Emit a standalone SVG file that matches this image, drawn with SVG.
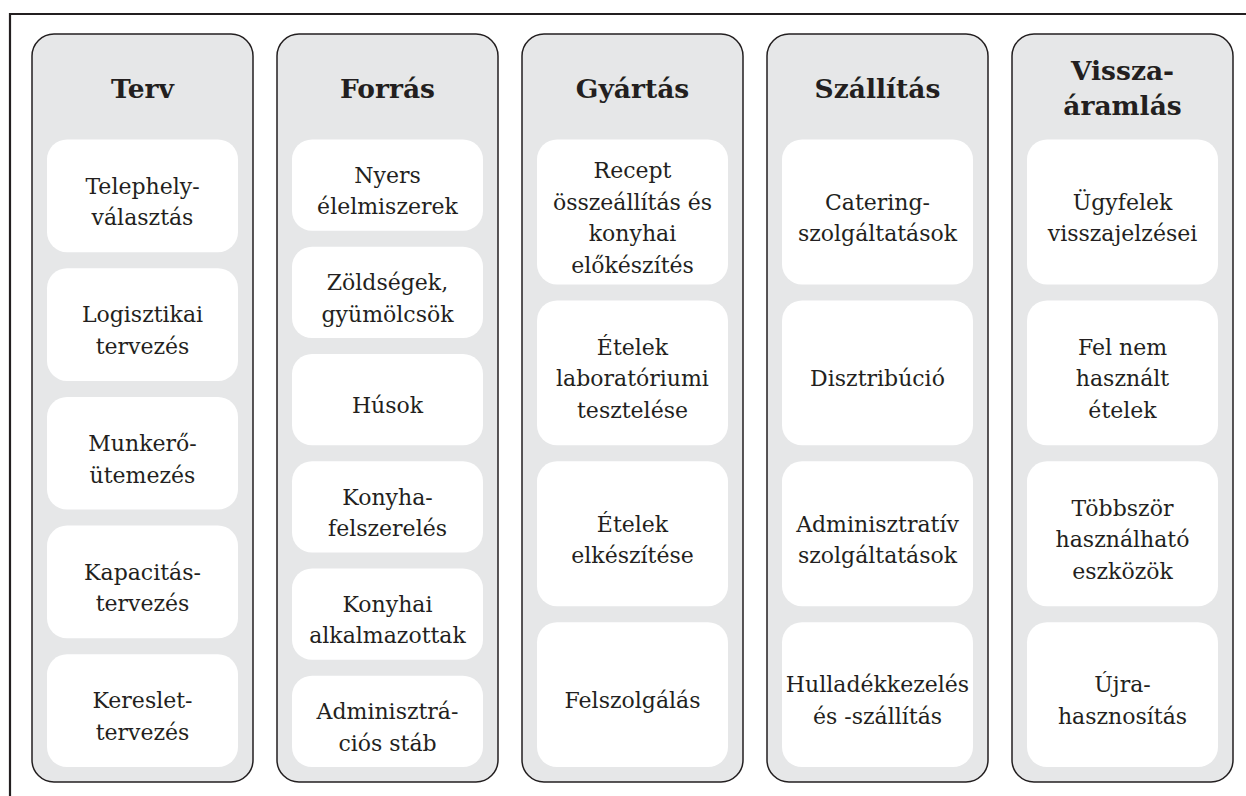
<svg xmlns="http://www.w3.org/2000/svg" width="1246" height="796" viewBox="0 0 1246 796">
  <style>
    .frame { fill: none; stroke: #231f20; stroke-width: 2.2; }
    .panel { fill: #e6e7e8; stroke: #231f20; stroke-width: 1.5; }
    .box { fill: #ffffff; }
    .title { font-family: "DejaVu Serif", "Liberation Serif", serif; font-weight: bold; font-size: 26.5px; fill: #231f20; text-anchor: middle; }
    .label { font-family: "DejaVu Serif", "Liberation Serif", serif; font-size: 22px; fill: #231f20; text-anchor: middle; }
  </style>

  <!-- outer frame (left and top edges) -->
  <path class="frame" d="M10,796 V14 H1246"/>

  <!-- Terv column -->
  <g id="col-terv">
    <rect class="panel" x="32" y="34" width="221" height="748" rx="22"/>
    <text class="title" x="142.5" y="98">Terv</text>
  </g>
  <g id="terv-1"><rect class="box" x="47" y="139.5" width="191" height="112.7" rx="20"/>
    <text class="label"><tspan x="142.5" y="193.6">Telephely-</tspan><tspan x="142.5" y="225.1">választás</tspan></text></g>
  <g id="terv-2"><rect class="box" x="47" y="268.2" width="191" height="112.7" rx="20"/>
    <text class="label"><tspan x="142.5" y="322.3">Logisztikai</tspan><tspan x="142.5" y="353.8">tervezés</tspan></text></g>
  <g id="terv-3"><rect class="box" x="47" y="396.9" width="191" height="112.7" rx="20"/>
    <text class="label"><tspan x="142.5" y="451">Munkerő-</tspan><tspan x="142.5" y="482.5">ütemezés</tspan></text></g>
  <g id="terv-4"><rect class="box" x="47" y="525.6" width="191" height="112.7" rx="20"/>
    <text class="label"><tspan x="142.5" y="579.7">Kapacitás-</tspan><tspan x="142.5" y="611.2">tervezés</tspan></text></g>
  <g id="terv-5"><rect class="box" x="47" y="654.3" width="191" height="112.7" rx="20"/>
    <text class="label"><tspan x="142.5" y="708.4">Kereslet-</tspan><tspan x="142.5" y="739.9">tervezés</tspan></text></g>

  <!-- Forrás column -->
  <g id="col-forras">
    <rect class="panel" x="277" y="34" width="221" height="748" rx="22"/>
    <text class="title" x="387.5" y="98">Forrás</text>
  </g>
  <g id="forras-1"><rect class="box" x="292" y="139.5" width="191" height="91.25" rx="20"/>
    <text class="label"><tspan x="387.5" y="182.9">Nyers</tspan><tspan x="387.5" y="214.4">élelmiszerek</tspan></text></g>
  <g id="forras-2"><rect class="box" x="292" y="246.75" width="191" height="91.25" rx="20"/>
    <text class="label"><tspan x="387.5" y="290.1">Zöldségek,</tspan><tspan x="387.5" y="321.6">gyümölcsök</tspan></text></g>
  <g id="forras-3"><rect class="box" x="292" y="354" width="191" height="91.25" rx="20"/>
    <text class="label" x="387.5" y="413.1">Húsok</text></g>
  <g id="forras-4"><rect class="box" x="292" y="461.25" width="191" height="91.25" rx="20"/>
    <text class="label"><tspan x="387.5" y="504.6">Konyha-</tspan><tspan x="387.5" y="536.1">felszerelés</tspan></text></g>
  <g id="forras-5"><rect class="box" x="292" y="568.5" width="191" height="91.25" rx="20"/>
    <text class="label"><tspan x="387.5" y="611.9">Konyhai</tspan><tspan x="387.5" y="643.4">alkalmazottak</tspan></text></g>
  <g id="forras-6"><rect class="box" x="292" y="675.75" width="191" height="91.25" rx="20"/>
    <text class="label"><tspan x="387.5" y="719.1">Adminisztrá-</tspan><tspan x="387.5" y="750.6">ciós stáb</tspan></text></g>

  <!-- Gyártás column -->
  <g id="col-gyartas">
    <rect class="panel" x="522" y="34" width="221" height="748" rx="22"/>
    <text class="title" x="632.5" y="98">Gyártás</text>
  </g>
  <g id="gyartas-1"><rect class="box" x="537" y="139.5" width="191" height="144.9" rx="20"/>
    <text class="label"><tspan x="632.5" y="178.2">Recept</tspan><tspan x="632.5" y="209.7">összeállítás és</tspan><tspan x="632.5" y="241.2">konyhai</tspan><tspan x="632.5" y="272.7">előkészítés</tspan></text></g>
  <g id="gyartas-2"><rect class="box" x="537" y="300.4" width="191" height="144.9" rx="20"/>
    <text class="label"><tspan x="632.5" y="354.85">Ételek</tspan><tspan x="632.5" y="386.35">laboratóriumi</tspan><tspan x="632.5" y="417.85">tesztelése</tspan></text></g>
  <g id="gyartas-3"><rect class="box" x="537" y="461.3" width="191" height="144.9" rx="20"/>
    <text class="label"><tspan x="632.5" y="531.5">Ételek</tspan><tspan x="632.5" y="563">elkészítése</tspan></text></g>
  <g id="gyartas-4"><rect class="box" x="537" y="622.2" width="191" height="144.9" rx="20"/>
    <text class="label" x="632.5" y="708.15">Felszolgálás</text></g>

  <!-- Szállítás column -->
  <g id="col-szallitas">
    <rect class="panel" x="767" y="34" width="221" height="748" rx="22"/>
    <text class="title" x="877.5" y="98">Szállítás</text>
  </g>
  <g id="szallitas-1"><rect class="box" x="782" y="139.5" width="191" height="144.9" rx="20"/>
    <text class="label"><tspan x="877.5" y="209.7">Catering-</tspan><tspan x="877.5" y="241.2">szolgáltatások</tspan></text></g>
  <g id="szallitas-2"><rect class="box" x="782" y="300.4" width="191" height="144.9" rx="20"/>
    <text class="label" x="877.5" y="386.35">Disztribúció</text></g>
  <g id="szallitas-3"><rect class="box" x="782" y="461.3" width="191" height="144.9" rx="20"/>
    <text class="label"><tspan x="877.5" y="531.5">Adminisztratív</tspan><tspan x="877.5" y="563">szolgáltatások</tspan></text></g>
  <g id="szallitas-4"><rect class="box" x="782" y="622.2" width="191" height="144.9" rx="20"/>
    <text class="label"><tspan x="877.5" y="692.4">Hulladékkezelés</tspan><tspan x="877.5" y="723.9">és -szállítás</tspan></text></g>

  <!-- Visszaáramlás column -->
  <g id="col-visszaaramlas">
    <rect class="panel" x="1012" y="34" width="221" height="748" rx="22"/>
    <text class="title"><tspan x="1122.5" y="80">Vissza-</tspan><tspan x="1122.5" y="115">áramlás</tspan></text>
  </g>
  <g id="vissza-1"><rect class="box" x="1027" y="139.5" width="191" height="144.9" rx="20"/>
    <text class="label"><tspan x="1122.5" y="209.7">Ügyfelek</tspan><tspan x="1122.5" y="241.2">visszajelzései</tspan></text></g>
  <g id="vissza-2"><rect class="box" x="1027" y="300.4" width="191" height="144.9" rx="20"/>
    <text class="label"><tspan x="1122.5" y="354.85">Fel nem</tspan><tspan x="1122.5" y="386.35">használt</tspan><tspan x="1122.5" y="417.85">ételek</tspan></text></g>
  <g id="vissza-3"><rect class="box" x="1027" y="461.3" width="191" height="144.9" rx="20"/>
    <text class="label"><tspan x="1122.5" y="515.75">Többször</tspan><tspan x="1122.5" y="547.25">használható</tspan><tspan x="1122.5" y="578.75">eszközök</tspan></text></g>
  <g id="vissza-4"><rect class="box" x="1027" y="622.2" width="191" height="144.9" rx="20"/>
    <text class="label"><tspan x="1122.5" y="692.4">Újra-</tspan><tspan x="1122.5" y="723.9">hasznosítás</tspan></text></g>

  <!-- no connectors between the columns -->
  <g id="connectors"/>
</svg>
